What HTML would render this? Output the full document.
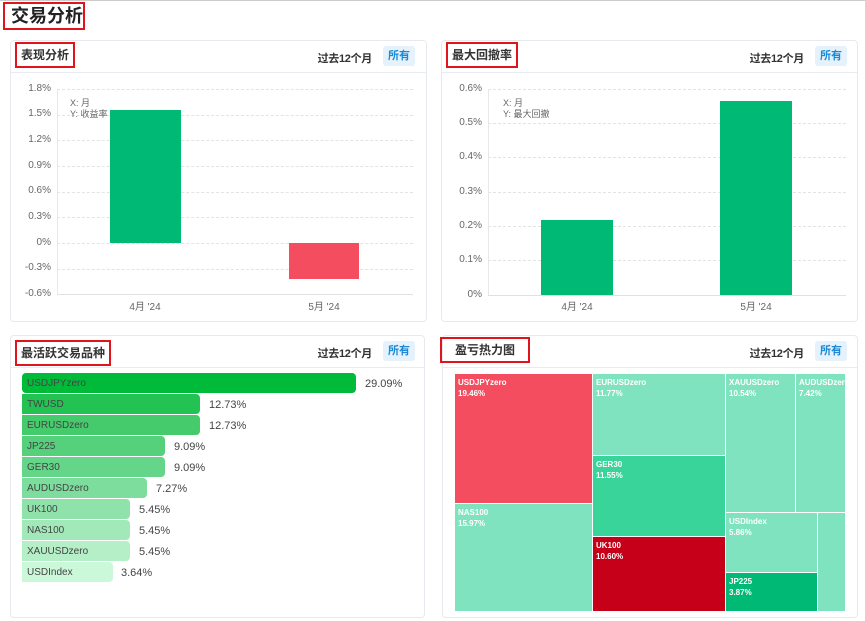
<!DOCTYPE html>
<html><head><meta charset="utf-8"><style>
*{margin:0;padding:0;box-sizing:border-box}
body{width:865px;height:621px;background:#fff;position:relative;overflow:hidden;font-family:"Liberation Sans","Noto Sans CJK SC",sans-serif;color:#333}
.a{position:absolute}
.panel{position:absolute;border:1px solid #e6eaee;border-radius:4px;background:#fff}
.hl{position:absolute;left:0;right:0;top:31px;border-top:1px solid #e8ecf0}
.ttl{position:absolute;border:2px solid #e0141b;font-size:12px;font-weight:bold;color:#333;padding:2px 4px;line-height:18px}
.p12{position:absolute;font-size:11px;font-weight:bold;color:#333;width:80px;text-align:right;letter-spacing:-0.3px}
.all{position:absolute;background:#e6f2fb;color:#1a8ad8;font-size:11px;font-weight:bold;border-radius:3px;width:32px;height:20px;line-height:20px;text-align:center}
.yl{position:absolute;font-size:10px;color:#666;text-align:right;width:40px}
.gl{position:absolute;border-top:1px dashed #e3e3e3;height:0}
.xl{position:absolute;font-size:10px;color:#666;width:60px;text-align:center}
.br{position:absolute;left:22px;height:20px;font-size:10px;color:#444;line-height:22px;padding-left:5px;border-radius:0 4px 4px 0}
.bv{position:absolute;font-size:11px;color:#444;line-height:22px}
.c{position:absolute;border:1px solid #fff;color:#fff;font-size:8px;font-weight:bold;padding:3px 3px;line-height:11px}
</style></head><body>
<div class="a" style="left:0;right:0;top:0;border-top:1px solid #ccc"></div>
<div class="a" style="left:3px;top:2px;width:82px;height:28px;border:2px solid #e0141b;font-size:18px;font-weight:bold;line-height:24px;padding-left:6px;color:#222">交易分析</div>

<!-- Panel 1 -->
<div class="panel" style="left:10px;top:40px;width:417px;height:282px">
<div class="hl"></div>
<div class="ttl" style="left:4px;top:1px">表现分析</div>
<div class="p12" style="left:281px;top:9px">过去12个月</div>
<div class="all" style="left:372px;top:5px">所有</div>
</div>
<div class="yl" style="left:11px;top:83px">1.8%</div>
<div class="yl" style="left:11px;top:108px">1.5%</div>
<div class="yl" style="left:11px;top:134px">1.2%</div>
<div class="yl" style="left:11px;top:160px">0.9%</div>
<div class="yl" style="left:11px;top:185px">0.6%</div>
<div class="yl" style="left:11px;top:211px">0.3%</div>
<div class="yl" style="left:11px;top:237px">0%</div>
<div class="yl" style="left:11px;top:262px">-0.3%</div>
<div class="yl" style="left:11px;top:288px">-0.6%</div>
<div class="gl" style="left:57px;width:356px;top:89px"></div>
<div class="gl" style="left:57px;width:356px;top:115px"></div>
<div class="gl" style="left:57px;width:356px;top:140px"></div>
<div class="gl" style="left:57px;width:356px;top:166px"></div>
<div class="gl" style="left:57px;width:356px;top:192px"></div>
<div class="gl" style="left:57px;width:356px;top:217px"></div>
<div class="gl" style="left:57px;width:356px;top:243px"></div>
<div class="gl" style="left:57px;width:356px;top:269px"></div>
<div class="a" style="left:57px;width:356px;top:294px;border-top:1px solid #e0e0e0"></div>
<div class="a" style="left:57px;top:89px;height:206px;border-left:1px solid #e8e8e8"></div>
<div class="a" style="left:70px;top:98px;font-size:9px;color:#666;line-height:11px">X: 月<br>Y: 收益率</div>
<div class="a" style="left:110px;top:110px;width:71px;height:133px;background:#00b974"></div>
<div class="a" style="left:289px;top:243px;width:70px;height:36px;background:#f54d60"></div>
<div class="xl" style="left:115px;top:298px">4月 '24</div>
<div class="xl" style="left:294px;top:298px">5月 '24</div>

<!-- Panel 2 -->
<div class="panel" style="left:441px;top:40px;width:417px;height:282px">
<div class="hl"></div>
<div class="ttl" style="left:4px;top:1px">最大回撤率</div>
<div class="p12" style="left:282px;top:9px">过去12个月</div>
<div class="all" style="left:373px;top:5px">所有</div>
</div>
<div class="yl" style="left:442px;top:83px">0.6%</div>
<div class="yl" style="left:442px;top:117px">0.5%</div>
<div class="yl" style="left:442px;top:151px">0.4%</div>
<div class="yl" style="left:442px;top:186px">0.3%</div>
<div class="yl" style="left:442px;top:220px">0.2%</div>
<div class="yl" style="left:442px;top:254px">0.1%</div>
<div class="yl" style="left:442px;top:289px">0%</div>
<div class="gl" style="left:488px;width:358px;top:89px"></div>
<div class="gl" style="left:488px;width:358px;top:123px"></div>
<div class="gl" style="left:488px;width:358px;top:157px"></div>
<div class="gl" style="left:488px;width:358px;top:192px"></div>
<div class="gl" style="left:488px;width:358px;top:226px"></div>
<div class="gl" style="left:488px;width:358px;top:260px"></div>
<div class="a" style="left:488px;width:358px;top:295px;border-top:1px solid #e0e0e0"></div>
<div class="a" style="left:488px;top:89px;height:206px;border-left:1px solid #e8e8e8"></div>
<div class="a" style="left:503px;top:98px;font-size:9px;color:#666;line-height:11px">X: 月<br>Y: 最大回撤</div>
<div class="a" style="left:541px;top:220px;width:72px;height:75px;background:#00b974"></div>
<div class="a" style="left:720px;top:101px;width:72px;height:194px;background:#00b974"></div>
<div class="xl" style="left:547px;top:298px">4月 '24</div>
<div class="xl" style="left:726px;top:298px">5月 '24</div>

<!-- Panel 3 -->
<div class="panel" style="left:10px;top:335px;width:415px;height:283px">
<div class="hl"></div>
<div class="ttl" style="left:4px;top:4px">最活跃交易品种</div>
<div class="p12" style="left:281px;top:9px">过去12个月</div>
<div class="all" style="left:372px;top:5px">所有</div>
</div>
<div class="br" style="top:373px;width:334px;background:#00ba3a;border-radius:4px">USDJPYzero</div><div class="bv" style="left:365px;top:373px">29.09%</div>
<div class="br" style="top:394px;width:178px;background:#22c353">TWUSD</div><div class="bv" style="left:209px;top:394px">12.73%</div>
<div class="br" style="top:415px;width:178px;background:#45cb6c">EURUSDzero</div><div class="bv" style="left:209px;top:415px">12.73%</div>
<div class="br" style="top:436px;width:143px;background:#55d07b">JP225</div><div class="bv" style="left:174px;top:436px">9.09%</div>
<div class="br" style="top:457px;width:143px;background:#65d689">GER30</div><div class="bv" style="left:174px;top:457px">9.09%</div>
<div class="br" style="top:478px;width:125px;background:#7ddd9c">AUDUSDzero</div><div class="bv" style="left:156px;top:478px">7.27%</div>
<div class="br" style="top:499px;width:108px;background:#8fe3aa">UK100</div><div class="bv" style="left:139px;top:499px">5.45%</div>
<div class="br" style="top:520px;width:108px;background:#a2e9b9">NAS100</div><div class="bv" style="left:139px;top:520px">5.45%</div>
<div class="br" style="top:541px;width:108px;background:#b4efc8">XAUUSDzero</div><div class="bv" style="left:139px;top:541px">5.45%</div>
<div class="br" style="top:562px;width:91px;background:#ccf8da">USDIndex</div><div class="bv" style="left:121px;top:562px">3.64%</div>

<!-- Panel 4 -->
<div class="panel" style="left:442px;top:335px;width:416px;height:283px">
<div class="hl"></div>
<div class="ttl" style="left:-3px;top:1px;width:90px;padding-left:13px">盈亏热力图</div>
<div class="p12" style="left:281px;top:9px">过去12个月</div>
<div class="all" style="left:372px;top:5px">所有</div>
</div>
<div class="c" style="left:454px;top:373px;width:139px;height:131px;background:#f54d60">USDJPYzero<br>19.46%</div>
<div class="c" style="left:454px;top:503px;width:139px;height:109px;background:#80e3bf">NAS100<br>15.97%</div>
<div class="c" style="left:592px;top:373px;width:134px;height:83px;background:#80e3bf">EURUSDzero<br>11.77%</div>
<div class="c" style="left:592px;top:455px;width:134px;height:82px;background:#38d49a">GER30<br>11.55%</div>
<div class="c" style="left:592px;top:536px;width:134px;height:76px;background:#c50018">UK100<br>10.60%</div>
<div class="c" style="left:725px;top:373px;width:71px;height:140px;background:#80e3bf">XAUUSDzero<br>10.54%</div>
<div class="c" style="left:795px;top:373px;width:51px;height:140px;background:#80e3bf">AUDUSDzero<br>7.42%</div>
<div class="c" style="left:725px;top:512px;width:93px;height:61px;background:#80e3bf">USDIndex<br>5.86%</div>
<div class="c" style="left:725px;top:572px;width:93px;height:40px;background:#00b974">JP225<br>3.87%</div>
<div class="c" style="left:817px;top:512px;width:29px;height:100px;background:#80e3bf"></div>
</body></html>
